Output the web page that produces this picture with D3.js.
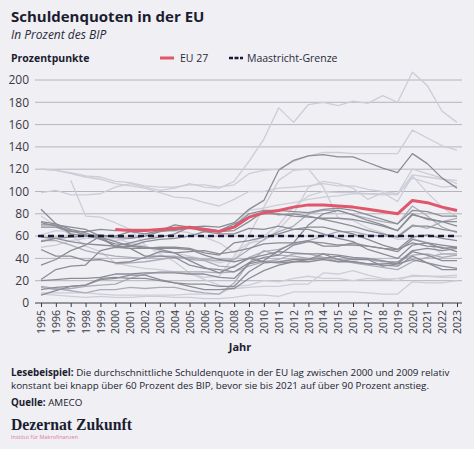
<!DOCTYPE html>
<html>
<head>
<meta charset="utf-8">
<script src="https://cdn.jsdelivr.net/npm/d3@7"></script>
<style>
  body { margin: 0; background: #efeff4; }
  svg { display: block; font-family: "Open Sans", sans-serif; }
</style>
</head>
<body>
<script>
// Schuldenquoten (Staatsschulden in % des BIP), AMECO
var years = [1995,1996,1997,1998,1999,2000,2001,2002,2003,2004,2005,2006,2007,2008,2009,
             2010,2011,2012,2013,2014,2015,2016,2017,2018,2019,2020,2021,2022,2023];

var AT = [68,68,64,64,66,65,66,66,65,65,68,67,65,69,80,83,83,82,81,84,85,83,79,75,71,83,82,78,78];
var BE = [120,119,116,113,111,107,105,103,99,95,94,90,87,93,100,100,103,104,105,107,105,105,102,100,98,112,108,104,105];
var BG = [null,null,110,78,77,72,66,52,44,37,27,21,16,13,14,15,15,17,17,27,26,29,25,22,20,25,24,23,23];
var CY = [50,52,56,58,59,56,58,61,65,65,63,59,54,45,54,56,66,80,104,109,107,103,93,99,91,114,99,86,77];
var CZ = [14,12,13,15,16,17,22,26,28,28,28,28,27,28,33,37,39,44,44,41,39,36,34,32,30,37,41,44,44];
var DE = [55,58,59,60,61,59,58,60,64,66,67,66,64,65,73,82,79,80,78,75,72,69,65,62,59,69,69,66,64];
var DK = [72,69,65,61,57,53,52,50,48,45,38,32,27,33,40,43,46,45,44,44,39,37,35,34,33,42,36,30,30];
var EE = [8,7,6,5,6,5,5,6,6,5,5,4,4,5,7,7,6,10,10,10,10,10,9,8,8,19,18,18,20];
var ES = [61,65,64,62,60,58,54,51,47,45,42,39,36,39,53,60,70,86,96,100,99,99,98,97,98,120,116,112,107];
var FI = [56,56,52,47,44,42,41,40,42,42,39,38,33,32,41,46,48,53,56,60,64,64,61,60,60,70,67,73,76];
var FR = [56,59,61,61,60,58,58,60,64,65,67,64,65,69,83,85,88,90,93,95,96,98,98,98,97,115,113,111,110];
var GR = [99,101,97,97,98,104,107,104,101,103,107,104,103,109,127,147,175,162,178,180,177,181,179,186,180,207,195,172,162];
var HR = [null,null,null,null,null,35,36,37,39,41,41,39,38,39,48,57,64,69,80,83,83,79,76,73,71,87,78,68,63];
var HU = [84,71,62,60,59,55,51,55,57,58,60,64,65,71,77,80,80,78,77,76,76,75,72,69,65,79,76,73,73];
var IE = [78,69,61,51,46,36,33,31,30,28,26,23,24,42,61,86,110,119,120,104,76,74,67,63,57,58,54,44,43];
var IT = [120,119,117,114,113,109,108,105,104,104,106,106,104,106,116,119,120,127,132,135,135,134,134,134,134,155,148,141,137];
var LT = [12,14,15,16,22,23,22,22,20,18,17,17,15,15,28,36,37,39,39,40,42,39,39,33,35,46,43,38,38];
var LU = [9,9,9,9,8,7,7,7,7,7,8,8,8,15,16,20,19,22,24,22,22,20,22,21,22,24,24,24,25];
var LV = [15,13,11,9,12,12,14,13,14,14,11,9,8,18,36,47,43,42,40,41,37,40,39,37,37,43,44,41,43];
var MT = [34,39,47,52,60,60,64,62,65,70,68,64,62,62,67,66,69,66,66,62,58,55,48,44,40,52,54,52,50];
var NL = [73,71,66,63,58,51,49,49,50,50,49,45,43,54,56,59,62,66,68,68,65,62,57,52,48,54,51,50,46];
var PL = [48,42,42,38,39,36,37,41,46,45,46,47,44,46,49,53,54,54,56,51,51,54,51,49,46,57,54,49,50];
var PT = [59,58,55,53,52,51,54,57,59,62,68,69,68,72,84,92,119,128,132,133,131,131,126,121,117,134,125,112,103];
var RO = [7,11,15,16,21,22,25,25,21,18,15,12,12,13,22,29,34,37,37,39,37,37,35,35,36,47,49,47,49];
var SE = [70,70,68,66,60,50,51,49,49,49,48,43,39,37,40,37,36,37,39,44,43,41,40,38,35,39,36,33,31];
var SI = [20,21,22,22,23,26,26,27,27,27,26,26,23,22,35,38,47,54,70,80,83,79,74,70,65,80,75,73,69];
var SK = [21,30,33,34,47,50,49,42,42,41,34,31,30,28,36,41,43,52,55,54,52,52,51,49,48,59,61,58,56];

var EU27 = [null,null,null,null,null,66,65,65,66,67,68,66,64,68,77,81,83,86,88,88,87,86,84,82,80,92,90,86,83];
var maastricht = 60;

var countries = [
  { name: "AT", values: AT }, { name: "BE", values: BE }, { name: "BG", values: BG },
  { name: "CY", values: CY }, { name: "CZ", values: CZ }, { name: "DE", values: DE },
  { name: "DK", values: DK }, { name: "EE", values: EE }, { name: "ES", values: ES },
  { name: "FI", values: FI }, { name: "FR", values: FR }, { name: "GR", values: GR },
  { name: "HR", values: HR }, { name: "HU", values: HU }, { name: "IE", values: IE },
  { name: "IT", values: IT }, { name: "LT", values: LT }, { name: "LU", values: LU },
  { name: "LV", values: LV }, { name: "MT", values: MT }, { name: "NL", values: NL },
  { name: "PL", values: PL }, { name: "PT", values: PT }, { name: "RO", values: RO },
  { name: "SE", values: SE }, { name: "SI", values: SI }, { name: "SK", values: SK }
];

var yTicks = [0, 20, 40, 60, 80, 100, 120, 140, 160, 180, 200];

// line shades: darker grey for some countries, light for the rest
var darkOnes = ["PT", "DE", "NL", "SK", "RO", "DK", "SE", "SI", "PL", "LT", "MT", "HU", "AT"];
var midOnes = ["FI", "CZ", "LV", "HR"];

var svg = d3.select("body").append("svg")
    .attr("width", 474)
    .attr("height", 449);

var x = d3.scaleLinear().domain([1995, 2023]).range([41, 457]);
var y = d3.scaleLinear().domain([0, 200]).range([303, 80]);

// titles
svg.append("text").attr("x", 11).attr("y", 22)
    .attr("font-size", 15).attr("font-weight", 700).attr("fill", "#1c1c30")
    .text("Schuldenquoten in der EU");
svg.append("text").attr("x", 11).attr("y", 39)
    .attr("font-size", 12).attr("font-style", "italic").attr("fill", "#2a2a3a")
    .text("In Prozent des BIP");
svg.append("text").attr("x", 11).attr("y", 62)
    .attr("font-size", 10.5).attr("font-weight", 700).attr("fill", "#1c1c30")
    .text("Prozentpunkte");

// legend
var legend = svg.append("g");
legend.append("line").attr("x1", 160).attr("x2", 174).attr("y1", 58).attr("y2", 58)
    .attr("stroke", "#e0566a").attr("stroke-width", 3);
legend.append("text").attr("x", 180).attr("y", 62).attr("font-size", 10.5).attr("fill", "#2a2a3a")
    .text("EU 27");
legend.append("line").attr("x1", 229).attr("x2", 243).attr("y1", 58).attr("y2", 58)
    .attr("stroke", "#1a1a38").attr("stroke-width", 2.5).attr("stroke-dasharray", "4,1.5");
legend.append("text").attr("x", 247).attr("y", 62).attr("font-size", 10.5).attr("fill", "#2a2a3a")
    .text("Maastricht-Grenze");

// grid + y labels
var grid = svg.append("g");
grid.selectAll("line").data(yTicks.filter(function (d) { return d > 0; }))
    .enter().append("line")
    .attr("x1", 35).attr("x2", 462)
    .attr("y1", function (d) { return y(d); })
    .attr("y2", function (d) { return y(d); })
    .attr("stroke", "#b4b4bc").attr("stroke-width", 1);
grid.selectAll("text").data(yTicks)
    .enter().append("text")
    .attr("x", 29).attr("y", function (d) { return y(d); })
    .attr("dy", "0.35em").attr("text-anchor", "end")
    .attr("font-size", 12).attr("fill", "#3a3a44")
    .text(function (d) { return d; });

// x axis
var xAxis = svg.append("g")
    .attr("transform", "translate(0," + y(0) + ")")
    .call(d3.axisBottom(x).tickValues(years).tickFormat(d3.format("d")).tickSize(4).tickSizeOuter(0));
xAxis.select(".domain").attr("d", "M35,0H462").attr("stroke", "#3a3a44");
xAxis.selectAll(".tick line").attr("stroke", "#3a3a44");
xAxis.selectAll(".tick text")
    .attr("transform", "rotate(-90)")
    .attr("text-anchor", "end")
    .attr("x", -7).attr("y", 0).attr("dy", "0.35em")
    .attr("font-size", 10.5).attr("fill", "#3a3a44")
    .attr("font-family", "Open Sans, sans-serif");

svg.append("text").attr("x", 240).attr("y", 351).attr("text-anchor", "middle")
    .attr("font-size", 11).attr("font-weight", 700).attr("fill", "#1c1c30")
    .text("Jahr");

// country lines
var line = d3.line()
    .defined(function (d) { return d != null; })
    .x(function (d, i) { return x(years[i]); })
    .y(function (d) { return y(d); });

function shade(name) {
    if (darkOnes.indexOf(name) >= 0) return "#8c8c96";
    if (midOnes.indexOf(name) >= 0) return "#acacb8";
    return "#cdcdd8";
}
function rank(name) {
    if (darkOnes.indexOf(name) >= 0) return 2;
    if (midOnes.indexOf(name) >= 0) return 1;
    return 0;
}

var sorted = countries.slice().sort(function (a, b) { return rank(a.name) - rank(b.name); });

svg.append("g").selectAll("path")
    .data(sorted)
    .enter().append("path")
    .attr("fill", "none")
    .attr("stroke", function (d) { return shade(d.name); })
    .attr("stroke-width", 1.3)
    .attr("stroke-linejoin", "round")
    .attr("d", function (d) { return line(d.values); });

// Maastricht limit
svg.append("line")
    .attr("x1", 38).attr("x2", 457)
    .attr("y1", y(maastricht)).attr("y2", y(maastricht))
    .attr("stroke", "#1a1a38").attr("stroke-width", 2.5)
    .attr("stroke-dasharray", "6,4");

// EU 27
svg.append("path")
    .attr("fill", "none")
    .attr("stroke", "#e0566a")
    .attr("stroke-width", 3)
    .attr("stroke-linejoin", "round")
    .attr("d", line(EU27));

// notes: pick a font size so the first line is as wide as in the original
function noteLine(yPos, parts) {
    var t = svg.append("text").attr("x", 11).attr("y", yPos)
        .attr("font-size", 10).attr("fill", "#1c1c30");
    parts.forEach(function (p) {
        t.append("tspan").attr("font-weight", p.bold ? 700 : 400).text(p.text);
    });
    return t;
}
var n1 = noteLine(375.5, [{ text: "Lesebeispiel:", bold: true },
    { text: " Die durchschnittliche Schuldenquote in der EU lag zwischen 2000 und 2009 relativ" }]);
var n2 = noteLine(388.5, [{ text: "konstant bei knapp über 60 Prozent des BIP, bevor sie bis 2021 auf über 90 Prozent anstieg." }]);
var n3 = noteLine(406, [{ text: "Quelle:", bold: true }, { text: " AMECO" }]);
var fs = 10 * 439 / n1.node().getComputedTextLength();
[n1, n2, n3].forEach(function (t) { t.attr("font-size", fs); });

var logo = svg.append("text").attr("x", 11).attr("y", 430)
    .attr("font-size", 17).attr("font-weight", 700).attr("fill", "#1c1c30")
    .attr("font-family", "Liberation Serif, serif")
    .text("Dezernat Zukunft");
logo.attr("font-size", 17 * 121 / logo.node().getComputedTextLength());
svg.append("text").attr("x", 11).attr("y", 439)
    .attr("font-size", 5.5).attr("fill", "#e27a9a")
    .text("Institut für Makrofinanzen");
</script>
</body>
</html>
